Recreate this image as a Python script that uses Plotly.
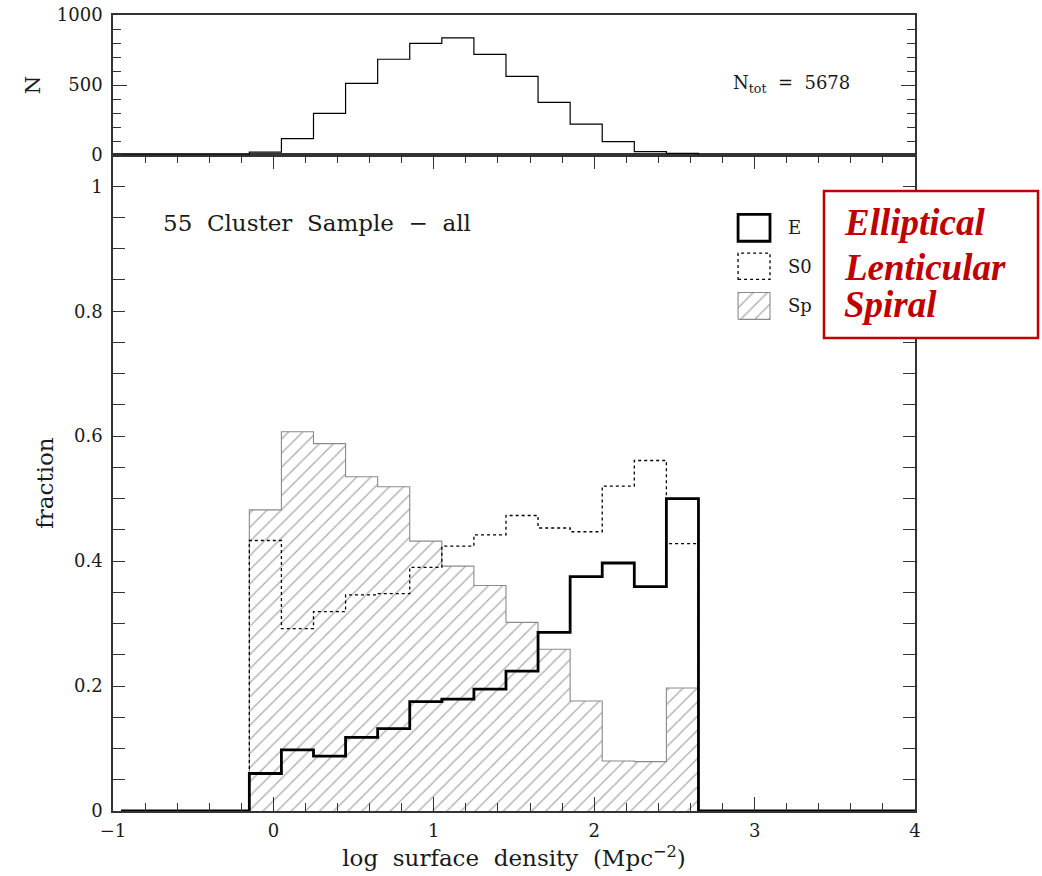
import plotly.graph_objects as go

# ---------------- data ----------------
bin_edges = [-0.15, 0.05, 0.25, 0.45, 0.65, 0.85, 1.05, 1.25, 1.45, 1.65, 1.85, 2.05, 2.25, 2.45, 2.65]
n_counts = [21, 117, 298, 512, 684, 798, 836, 719, 562, 376, 221, 96, 24, 12]
frac_E = [0.060, 0.098, 0.088, 0.118, 0.132, 0.175, 0.179, 0.195, 0.224, 0.286, 0.375, 0.397, 0.359, 0.500]
frac_S0 = [0.433, 0.292, 0.319, 0.346, 0.348, 0.390, 0.424, 0.442, 0.473, 0.453, 0.447, 0.520, 0.561, 0.428]
frac_Sp = [0.482, 0.607, 0.588, 0.535, 0.519, 0.432, 0.392, 0.361, 0.302, 0.259, 0.176, 0.080, 0.079, 0.197]
x_range = [-1, 4]
x_start = -0.95
n_total = 5678
legend_labels = ["E", "S0", "Sp"]
morph_names = ["Elliptical", "Lenticular", "Spiral"]

FONT = "DejaVu Serif"
AX = "#333333"
TXT = "#1a1a1a"
HATCH = dict(shape="/", fgcolor="#555555", bgcolor="rgba(0,0,0,0)", size=10, solidity=0.13)


def step_closed(vals):
    """Step outline starting/ending at zero on the first/last bin edge."""
    xs = [bin_edges[0]] + bin_edges[:-1] + [bin_edges[-1]]
    ys = [0] + list(vals) + [0]
    return xs, ys


def step_full(vals, x0, x1):
    xs = [x0] + bin_edges[:-1] + [bin_edges[-1], x1]
    ys = [0] + list(vals) + [0, 0]
    return xs, ys


fig = go.Figure()

# Spiral: hatched area with thin grey outline
xs, ys = step_closed(frac_Sp)
fig.add_trace(go.Scatter(
    x=xs, y=ys, mode="lines", line=dict(shape="hv", color="#8a8a8a", width=1.1),
    fill="tozeroy", fillcolor="rgba(0,0,0,0)", fillpattern=HATCH,
    showlegend=False, xaxis="x", yaxis="y"))

# S0: dotted
xs, ys = step_closed(frac_S0)
fig.add_trace(go.Scatter(
    x=xs, y=ys, mode="lines", line=dict(shape="hv", color="black", width=1.3, dash="dot"),
    showlegend=False, xaxis="x", yaxis="y"))

# E: thick solid
xs, ys = step_full(frac_E, x_start, x_range[1])
fig.add_trace(go.Scatter(
    x=xs, y=ys, mode="lines", line=dict(shape="hv", color="black", width=2.8),
    showlegend=False, xaxis="x", yaxis="y"))

# top panel: N histogram
xs = [x_start] + bin_edges[:-1] + [bin_edges[-1]]
ys = [0] + n_counts + [0]
fig.add_trace(go.Scatter(
    x=xs, y=ys, mode="lines", line=dict(shape="hv", color="black", width=1.2),
    showlegend=False, xaxis="x2", yaxis="y2"))

# ---------------- custom legend (data coords of lower panel) ----------------
lx0, lx1 = 2.897, 3.096
rows = [(0.955, 0.912), (0.893, 0.851), (0.830, 0.787)]
fig.add_shape(type="rect", xref="x", yref="y", x0=lx0, x1=lx1, y0=rows[0][1], y1=rows[0][0],
              line=dict(color="black", width=2.8))
fig.add_shape(type="rect", xref="x", yref="y", x0=lx0, x1=lx1, y0=rows[1][1], y1=rows[1][0],
              line=dict(color="black", width=1.3, dash="dot"))
fig.add_trace(go.Scatter(
    x=[lx0, lx1, lx1, lx0, lx0], y=[rows[2][1], rows[2][1], rows[2][0], rows[2][0], rows[2][1]],
    mode="lines", line=dict(color="#8a8a8a", width=1.1), fill="toself", fillcolor="rgba(0,0,0,0)",
    fillpattern=HATCH, showlegend=False, hoverinfo="skip", xaxis="x", yaxis="y"))
for lab, (yt, yb) in zip(legend_labels, rows):
    fig.add_annotation(x=lx1 + 0.1, y=(yt + yb) / 2, xref="x", yref="y", text=lab,
                       showarrow=False, xanchor="left", yanchor="middle",
                       font=dict(family=FONT, size=18, color=TXT))

# ---------------- red morphology box ----------------
fig.add_shape(type="rect", xref="paper", yref="paper", x0=0.8865, x1=1.1534, y0=0.5942, y1=0.7789,
              line=dict(color="#c00000", width=2.5), fillcolor="white", layer="above")
name_y = [0.7393, 0.6834, 0.6369]
for name, yy in zip(morph_names, name_y):
    fig.add_annotation(x=0.909, y=yy, xref="paper", yref="paper", text=name,
                       showarrow=False, xanchor="left", yanchor="middle",
                       font=dict(family="Liberation Serif", size=37, color="#c00000",
                                 weight="bold", style="italic"))

# ---------------- texts ----------------
fig.add_annotation(x=-0.70, y=0.941, xref="x", yref="y", text="55  Cluster  Sample  −  all",
                   showarrow=False, xanchor="left", yanchor="middle",
                   font=dict(family=FONT, size=23, color=TXT))
fig.add_annotation(x=2.85, y=510, xref="x2", yref="y2", text="N<sub>tot</sub>  =  " + str(n_total),
                   showarrow=False, xanchor="left", yanchor="middle",
                   font=dict(family=FONT, size=18, color=TXT))

axis_common = dict(showline=True, linecolor=AX, linewidth=1.5, mirror="ticks", ticks="inside",
                   tickcolor=AX, tickwidth=1.2, showgrid=False, zeroline=False, automargin=False,
                   ticklabeloverflow="allow",
                   tickfont=dict(family=FONT, size=18, color=TXT))

fig.update_layout(
    width=1042, height=876,
    margin=dict(l=113, r=127, t=15, b=65, autoexpand=False),
    paper_bgcolor="white", plot_bgcolor="white",
    showlegend=False,
    xaxis=dict(domain=[0, 1], range=x_range, anchor="y", dtick=1, ticklen=14, ticklabelstandoff=3,
               minor=dict(dtick=0.2, ticklen=8, ticks="inside", tickcolor=AX, tickwidth=1.2),
               title=dict(text="log  surface  density  (Mpc<sup>−2</sup>)", standoff=10,
                          font=dict(family=FONT, size=23, color=TXT)),
               **axis_common),
    yaxis=dict(domain=[0, 0.8241], range=[0, 1.05], anchor="x", tickvals=[0, 0.2, 0.4, 0.6, 0.8, 1],
               ticktext=["0", "0.2", "0.4", "0.6", "0.8", "1"], ticklen=12, ticklabelstandoff=5,
               minor=dict(dtick=0.05, ticklen=12, ticks="inside", tickcolor=AX, tickwidth=1.2),
               title=dict(text="fraction", standoff=14, font=dict(family=FONT, size=23, color=TXT)),
               **axis_common),
    xaxis2=dict(domain=[0, 1], range=x_range, anchor="y2", showticklabels=False, automargin=False,
                showline=True, linecolor=AX, linewidth=1.5, mirror=True, ticks="",
                showgrid=False, zeroline=False, matches="x"),
    yaxis2=dict(domain=[0.8241, 1], range=[0, 1000], anchor="x2", tickvals=[0, 500, 1000], ticklen=14,
                ticklabelstandoff=5,
                minor=dict(dtick=100, ticklen=8, ticks="inside", tickcolor=AX, tickwidth=1.2),
                title=dict(text="N", standoff=10, font=dict(family=FONT, size=21, color=TXT)),
                **axis_common),
)

fig.write_html("out.html", config={"displayModeBar": False},
               post_script="document.body.style.margin='0';")
